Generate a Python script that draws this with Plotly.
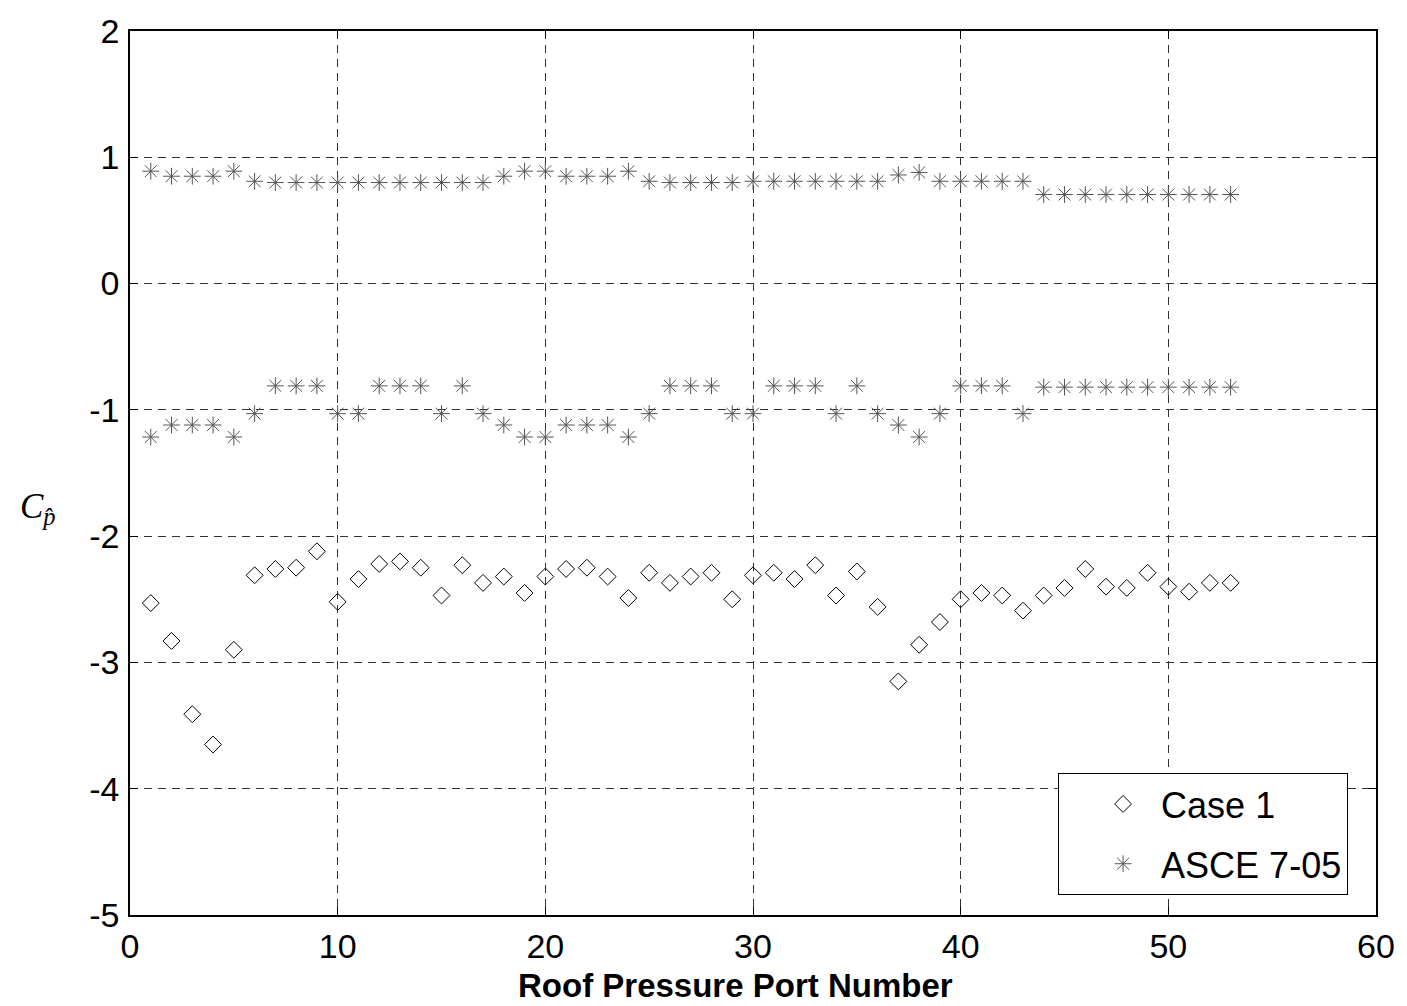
import plotly.graph_objects as go

ports = list(range(1, 54))

case1 = [-2.53, -2.83, -3.41, -3.65, -2.90, -2.31, -2.26, -2.25, -2.12, -2.52,
         -2.34, -2.22, -2.20, -2.25, -2.47, -2.23, -2.37, -2.32, -2.45, -2.32,
         -2.26, -2.25, -2.32, -2.49, -2.29, -2.37, -2.32, -2.29, -2.50, -2.31,
         -2.29, -2.34, -2.23, -2.47, -2.28, -2.56, -3.15, -2.86, -2.68, -2.50,
         -2.45, -2.47, -2.59, -2.47, -2.41, -2.26, -2.40, -2.41, -2.29, -2.40,
         -2.44, -2.37, -2.37]

asce_pos = [0.89, 0.85, 0.85, 0.85, 0.89, 0.81, 0.80, 0.80, 0.80, 0.80,
            0.80, 0.80, 0.80, 0.80, 0.80, 0.80, 0.80, 0.85, 0.89, 0.89,
            0.85, 0.85, 0.85, 0.89, 0.81, 0.80, 0.80, 0.80, 0.80, 0.81,
            0.81, 0.81, 0.81, 0.81, 0.81, 0.81, 0.86, 0.88, 0.81, 0.81,
            0.81, 0.81, 0.81, 0.705, 0.705, 0.705, 0.705, 0.705, 0.705, 0.705,
            0.705, 0.705, 0.705]

asce_neg = [-1.215, -1.12, -1.12, -1.12, -1.215, -1.03, -0.81, -0.81, -0.81, -1.03,
            -1.03, -0.81, -0.81, -0.81, -1.03, -0.81, -1.03, -1.12, -1.215, -1.215,
            -1.12, -1.12, -1.12, -1.215, -1.03, -0.81, -0.81, -0.81, -1.03, -1.03,
            -0.81, -0.81, -0.81, -1.03, -0.81, -1.03, -1.12, -1.215, -1.03, -0.81,
            -0.81, -0.81, -1.03, -0.82, -0.82, -0.82, -0.82, -0.82, -0.82, -0.82,
            -0.82, -0.82, -0.82]

x_ticks = [0, 10, 20, 30, 40, 50, 60]
x_tick_labels = ["0", "10", "20", "30", "40", "50", "60"]
y_ticks = [-5, -4, -3, -2, -1, 0, 1, 2]
y_tick_labels = ["-5", "-4", "-3", "-2", "-1", "0", "1", "2"]

FONT = "Liberation Sans, Arial, sans-serif"
STAR_COLOR = "#555555"

fig = go.Figure()

fig.add_trace(go.Scatter(
    x=ports, y=case1, mode="markers", name="Case 1", legendgroup="a",
    marker=dict(symbol="diamond-open", size=13, color="black",
                line=dict(color="black", width=1)),
))

fig.add_trace(go.Scatter(
    x=ports + ports, y=asce_pos + asce_neg, mode="markers", name="ASCE 7-05",
    legendgroup="b",
    marker=dict(symbol="asterisk-open", size=14, color=STAR_COLOR,
                line=dict(color=STAR_COLOR, width=1)),
))

axis_common = dict(
    showline=True, linecolor="black", linewidth=1.5, mirror="ticks",
    ticks="inside", ticklen=8, tickcolor="black", tickwidth=1,
    showgrid=True, gridcolor="#333333", gridwidth=1, griddash="8px,6px",
    zeroline=False,
    tickfont=dict(family=FONT, size=34, color="black"),
)

fig.update_xaxes(range=[0, 60], tickvals=x_ticks, ticktext=x_tick_labels,
                 ticklabelstandoff=0, **axis_common)
fig.update_yaxes(range=[-5, 2], tickvals=y_ticks, ticktext=y_tick_labels,
                 ticklabelstandoff=2, **axis_common)

fig.add_annotation(
    text="Roof Pressure Port Number", xref="paper", yref="paper",
    x=0.486, y=-0.08, xanchor="center", yanchor="middle", showarrow=False,
    font=dict(family=FONT, size=33, color="black", weight="bold"),
)

fig.add_annotation(
    text="<i>C</i><sub><i>p̂</i></sub>", xref="paper", yref="paper",
    x=-0.074, y=0.46, xanchor="center", yanchor="middle", showarrow=False,
    font=dict(family="Liberation Serif, Times New Roman, serif", size=35,
              color="black"),
)

fig.update_layout(
    width=1407, height=1006,
    margin=dict(l=130, r=24, t=29, b=91),
    plot_bgcolor="white", paper_bgcolor="white",
    showlegend=True,
    legend=dict(
        x=0.9776, y=0.0226, xanchor="right", yanchor="bottom",
        bgcolor="white", bordercolor="black", borderwidth=1,
        font=dict(family=FONT, size=36, color="black"),
        itemwidth=66, indentation=26, tracegroupgap=10,
    ),
)

fig.write_html("out.html")
